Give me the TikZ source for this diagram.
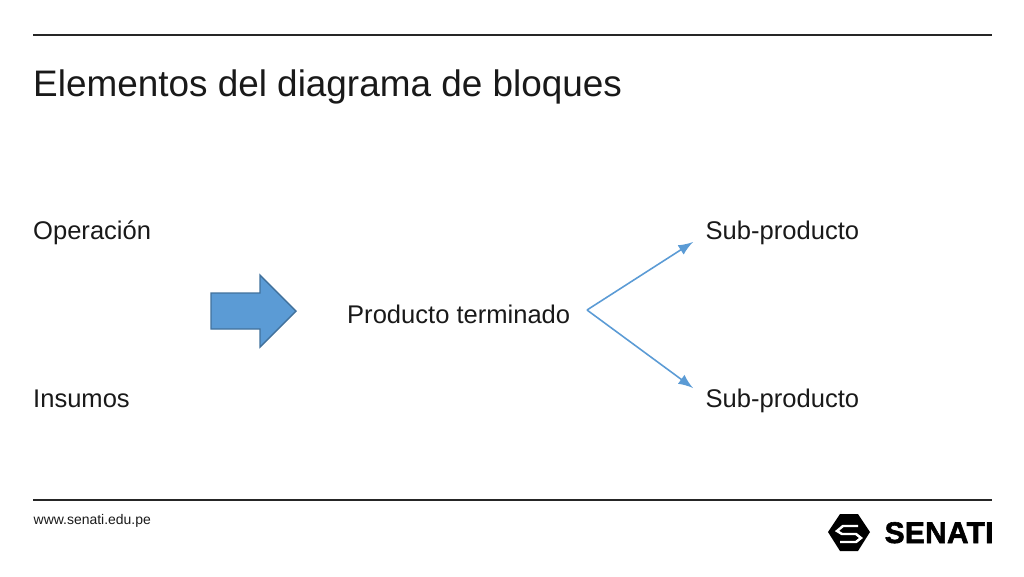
\documentclass[tikz,border=0pt]{standalone}
\usepackage{fontspec}
\usepackage{tikz}
\setmainfont{Liberation Sans}
\newfontfamily\senatifont[FakeBold=2,LetterSpace=1]{Liberation Sans Bold}
\definecolor{azul}{RGB}{91,155,213}
\definecolor{azulborde}{RGB}{65,113,156}
\tikzset{
  texto/.style={anchor=base west,inner sep=0pt,font=\fontsize{7.27}{9}\selectfont,text=black!90},
  regla/.style={line width=0.6pt,black!85},
  rama/.style={-latex,line width=0.45pt,azul}
}
\begin{document}
\begin{tikzpicture}
\useasboundingbox (0,0) rectangle (10.24,5.76);

\node (titulo) at (0.325,4.80) [texto,font=\fontsize{10.5}{12}\selectfont] {Elementos del diagrama de bloques};
\node (operacion) at (0.325,3.37) [texto] {Operación};
\node (insumos) at (0.325,1.69) [texto] {Insumos};
\node (producto) at (3.465,2.53) [texto] {Producto terminado};
\node (sub1) at (7.05,3.37) [texto] {Sub-producto};
\node (sub2) at (7.05,1.69) [texto] {Sub-producto};
\node (web) at (0.33,0.52) [texto,font=\fontsize{3.97}{5}\selectfont] {www.senati.edu.pe};
\node (senati) at (8.84,0.33) [texto,font=\fontsize{8.5}{10}\senatifont,text=black] {SENATI};

\coordinate (r1a) at (0.33,5.41);
\coordinate (r1b) at (9.92,5.41);
\coordinate (r2a) at (0.33,0.76);
\coordinate (r2b) at (9.92,0.76);
\draw [regla] (r1a) -- (r1b);
\draw [regla] (r2a) -- (r2b);

% flecha grande
\draw [fill=azul,draw=azulborde,line width=0.4pt] (2.11,2.83) -- (2.60,2.83) -- (2.60,3.01) -- (2.96,2.65)
  -- (2.60,2.29) -- (2.60,2.47) -- (2.11,2.47) -- cycle;

\coordinate (fork) at (5.87,2.66);
\coordinate (fin1) at (6.93,3.34);
\coordinate (fin2) at (6.93,1.88);
\draw [rama] (fork) -- (fin1);
\draw [rama] (fork) -- (fin2);

% logo
\fill [black] (8.28,0.44) -- (8.40,0.62) -- (8.58,0.62) -- (8.70,0.44) -- (8.58,0.25) -- (8.40,0.25) -- cycle;
\draw [white,line width=0.7pt] (8.58,0.50) -- (8.43,0.50) -- (8.37,0.45) -- (8.42,0.42) -- (8.56,0.42) -- (8.61,0.38) -- (8.56,0.34) -- (8.40,0.34);
\end{tikzpicture}
\end{document}
